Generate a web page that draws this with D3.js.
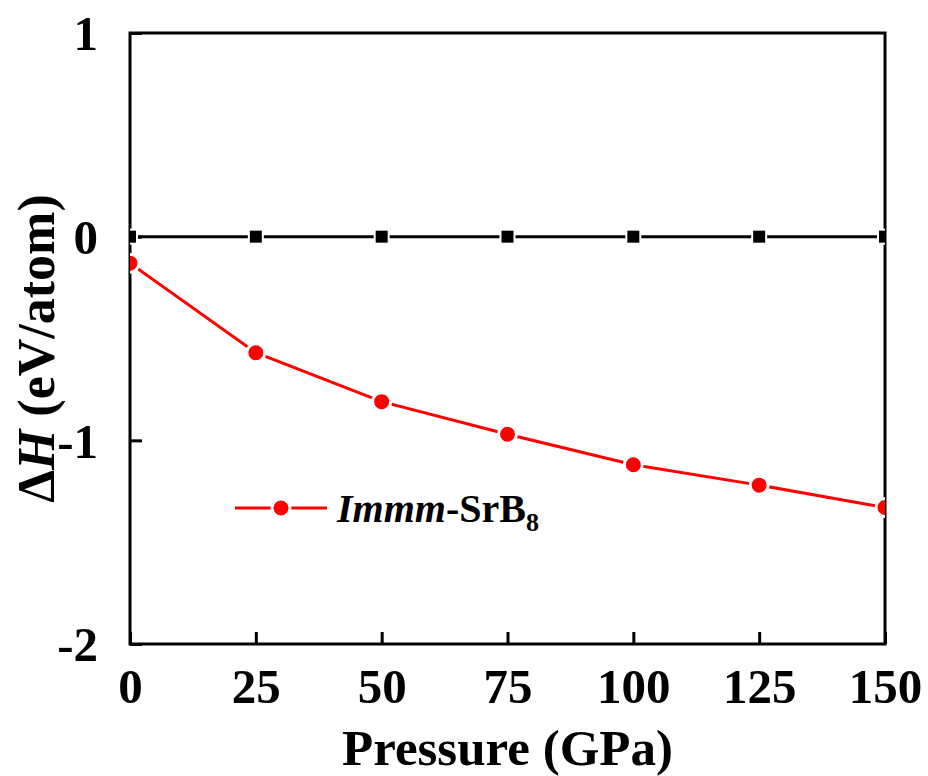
<!DOCTYPE html>
<html>
<head>
<meta charset="utf-8">
<script src="https://cdn.jsdelivr.net/npm/d3@7"></script>
<style>
  body { margin: 0; background: #fff; }
</style>
</head>
<body>
<div id="chart"></div>
<script>
// data
var pressures = [0, 25, 50, 75, 100, 125, 150];
var refValues = [0, 0, 0, 0, 0, 0, 0];
var srb8Values = [-0.13, -0.57, -0.81, -0.97, -1.12, -1.22, -1.33];
var xTicks = [0, 25, 50, 75, 100, 125, 150];
var yTicks = [1, 0, -1, -2];

var FONT = "'Liberation Serif', 'Times New Roman', serif";

var margin = {top: 33, right: 43, bottom: 132, left: 130},
    width = 928 - margin.left - margin.right,
    height = 776 - margin.top - margin.bottom;

var svg = d3.select("#chart").append("svg")
    .attr("width", 928)
    .attr("height", 776)
  .append("g")
    .attr("transform", "translate(" + margin.left + "," + margin.top + ")");

var xScale = d3.scaleLinear().domain([0, 150]).range([0, width]);
var yScale = d3.scaleLinear().domain([-2, 1]).range([height, 0]);

svg.append("clipPath").attr("id", "plotclip")
  .append("rect").attr("width", width).attr("height", height);

// x axis (ticks point inside)
var xAxis = svg.append("g")
    .attr("transform", "translate(0," + height + ")")
    .call(d3.axisBottom(xScale).tickValues(xTicks).tickSize(-12).tickPadding(24));
xAxis.select(".domain").remove();
xAxis.selectAll("line").attr("stroke", "#000").attr("stroke-width", 3);
xAxis.selectAll("text")
    .style("font-family", FONT).style("font-weight", "bold")
    .style("font-size", "49px").attr("fill", "#000").attr("dy", "0.72em");

// y axis, plain hyphen for minus like the original
var yAxis = svg.append("g")
    .call(d3.axisLeft(yScale).tickValues(yTicks).tickSize(-12).tickPadding(32)
      .tickFormat(function(d) { return String(d); }));
yAxis.select(".domain").remove();
yAxis.selectAll("line").attr("stroke", "#000").attr("stroke-width", 3);
yAxis.selectAll("text")
    .style("font-family", FONT).style("font-weight", "bold")
    .style("font-size", "49px").attr("fill", "#000").attr("dy", "0.34em");

// frame
svg.append("rect")
    .attr("width", width).attr("height", height)
    .attr("fill", "none").attr("stroke", "#000").attr("stroke-width", 3);

var plot = svg.append("g").attr("clip-path", "url(#plotclip)");

var line = d3.line()
    .x(function(d) { return xScale(d[0]); })
    .y(function(d) { return yScale(d[1]); });

var refData = pressures.map(function(p, i) { return [p, refValues[i]]; });
var srbData = pressures.map(function(p, i) { return [p, srb8Values[i]]; });

// reference line with squares
plot.append("path").datum(refData)
    .attr("d", line).attr("fill", "none")
    .attr("stroke", "#000").attr("stroke-width", 3);
plot.selectAll(".sq").data(refData)
  .enter().append("rect")
    .attr("class", "sq")
    .attr("x", function(d) { return xScale(d[0]) - 7; })
    .attr("y", function(d) { return yScale(d[1]) - 7; })
    .attr("width", 14).attr("height", 14)
    .attr("fill", "#000").attr("stroke", "#fff").attr("stroke-width", 2);

// SrB8 line with circles
plot.append("path").datum(srbData)
    .attr("d", line).attr("fill", "none")
    .attr("stroke", "#ff0000").attr("stroke-width", 3);
plot.selectAll(".dot").data(srbData)
  .enter().append("circle")
    .attr("class", "dot")
    .attr("cx", function(d) { return xScale(d[0]); })
    .attr("cy", function(d) { return yScale(d[1]); })
    .attr("r", 9)
    .attr("fill", "#ff0000").attr("stroke", "#fff").attr("stroke-width", 3);

// legend
var leg = svg.append("g").attr("transform", "translate(105,475)");
leg.append("line").attr("x1", 0).attr("x2", 92).attr("y1", 0).attr("y2", 0)
    .attr("stroke", "#ff0000").attr("stroke-width", 3);
leg.append("circle").attr("cx", 46).attr("cy", 0).attr("r", 9)
    .attr("fill", "#ff0000").attr("stroke", "#fff").attr("stroke-width", 3);
var lt = leg.append("text").attr("x", 102).attr("y", 14)
    .style("font-family", FONT).style("font-weight", "bold").style("font-size", "40px");
lt.append("tspan").style("font-style", "italic").text("Immm");
lt.append("tspan").text("-SrB");
lt.append("tspan").attr("dy", 9).style("font-size", "26px").text("8");

// axis titles
svg.append("text")
    .attr("x", width / 2).attr("y", height + 121)
    .attr("text-anchor", "middle")
    .style("font-family", FONT).style("font-weight", "bold")
    .style("font-size", "51px")
    .text("Pressure (GPa)");

var yt = svg.append("text")
    .attr("transform", "translate(-76," + (height / 2 + 10) + ") rotate(-90)")
    .attr("text-anchor", "middle")
    .style("font-family", FONT).style("font-weight", "bold")
    .style("font-size", "52px");
yt.append("tspan").text("\u0394");
yt.append("tspan").style("font-style", "italic").text("H");
yt.append("tspan").text(" (eV/atom)");
</script>
</body>
</html>
